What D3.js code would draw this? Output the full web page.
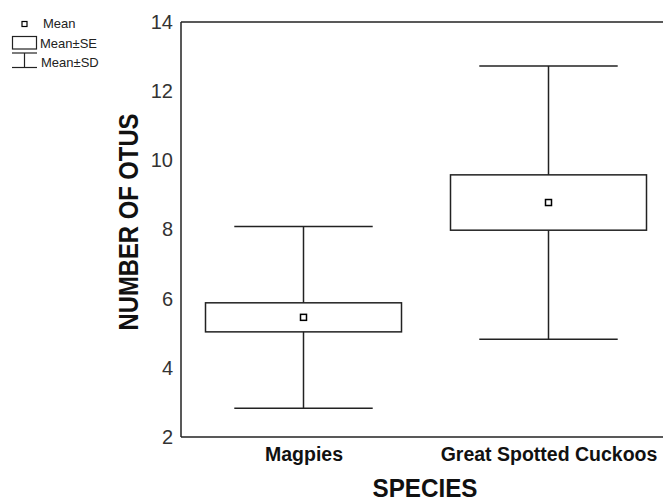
<!DOCTYPE html>
<html>
<head>
<meta charset="utf-8">
<script src="https://cdn.jsdelivr.net/npm/d3@7"></script>
<style>
  html, body { margin: 0; padding: 0; background: #fff; }
  svg { display: block; }
  text { font-family: Arial, "Liberation Sans", sans-serif; }
</style>
</head>
<body>
<svg id="chart" width="663" height="501"></svg>
<script>
// ---- data ----
const categories = ["Magpies", "Great Spotted Cuckoos"];
const means = [5.46, 8.78];
const seValues = [0.42, 0.80];
const sdValues = [2.63, 3.95];
const yTicks = [2, 4, 6, 8, 10, 12, 14];
const legendLabels = ["Mean", "Mean\u00b1SE", "Mean\u00b1SD"];
const xTitle = "SPECIES";
const yTitle = "NUMBER OF OTUS";

(function () {
const svg = d3.select("#chart");
const W = 663;
const plotLeft = 181, plotTop = 22, plotBottom = 437;

const y = d3.scaleLinear().domain([2, 14]).range([plotBottom, plotTop]);
const x = d3.scalePoint().domain(categories).range([plotLeft, 671]).padding(0.5);
const step = x.step();
const boxW = step * 0.8;
const capW = step * 0.565;
const ink = "#222";

// axes frame
const g = svg.append("g");
g.append("line").attr("x1", plotLeft).attr("x2", plotLeft).attr("y1", y(14)).attr("y2", y(2))
  .attr("stroke", ink).attr("stroke-width", 1.5);
g.append("line").attr("x1", plotLeft).attr("x2", W).attr("y1", y(14)).attr("y2", y(14))
  .attr("stroke", ink).attr("stroke-width", 1.5);
g.append("line").attr("x1", plotLeft).attr("x2", W).attr("y1", y(2)).attr("y2", y(2))
  .attr("stroke", ink).attr("stroke-width", 1.5);

// y tick labels
const yAxis = d3.axisLeft(y).tickValues(yTicks).tickSize(0).tickPadding(8).tickFormat(d3.format("d"));
const ya = svg.append("g").attr("transform", `translate(${plotLeft},0)`).call(yAxis);
ya.select(".domain").remove();
ya.selectAll("text").attr("font-size", 20).attr("fill", "#333")
  .attr("font-family", "Arial, 'Liberation Sans', sans-serif");

// x category labels
const xAxis = d3.axisBottom(x).tickSize(0).tickPadding(10);
const xa = svg.append("g").attr("transform", `translate(0,${plotBottom})`).call(xAxis);
xa.select(".domain").remove();
xa.selectAll("text").attr("font-size", 19.5).attr("font-weight", "bold").attr("fill", "#111")
  .attr("font-family", "Arial, 'Liberation Sans', sans-serif");

// plot elements
const data = categories.map((c, i) => ({ c, m: means[i], se: seValues[i], sd: sdValues[i] }));
const grp = svg.append("g").selectAll("g").data(data).join("g");

grp.append("line").attr("x1", d => x(d.c)).attr("x2", d => x(d.c))
  .attr("y1", d => y(d.m + d.sd)).attr("y2", d => y(d.m - d.sd))
  .attr("stroke", ink).attr("stroke-width", 1.5);
[1, -1].forEach(s => {
  grp.append("line")
    .attr("x1", d => x(d.c) - capW / 2).attr("x2", d => x(d.c) + capW / 2)
    .attr("y1", d => y(d.m + s * d.sd)).attr("y2", d => y(d.m + s * d.sd))
    .attr("stroke", ink).attr("stroke-width", 1.5);
});
grp.append("rect")
  .attr("x", d => x(d.c) - boxW / 2).attr("width", boxW)
  .attr("y", d => y(d.m + d.se)).attr("height", d => y(d.m - d.se) - y(d.m + d.se))
  .attr("fill", "#fff").attr("stroke", ink).attr("stroke-width", 1.5);
grp.append("rect")
  .attr("x", d => x(d.c) - 3).attr("y", d => y(d.m) - 3)
  .attr("width", 6).attr("height", 6)
  .attr("fill", "#fff").attr("stroke", "#000").attr("stroke-width", 1.5);

// axis titles
svg.append("text").attr("x", 425).attr("y", 497).attr("text-anchor", "middle")
  .attr("font-size", 25).attr("font-weight", "bold").attr("fill", "#111")
  .attr("textLength", 105).attr("lengthAdjust", "spacingAndGlyphs").text(xTitle);
svg.append("text").attr("transform", "translate(138,222) rotate(-90)")
  .attr("text-anchor", "middle").attr("font-size", 27).attr("font-weight", "bold").attr("fill", "#111")
  .attr("textLength", 217).attr("lengthAdjust", "spacingAndGlyphs").text(yTitle);

// legend
const lg = svg.append("g");
lg.append("rect").attr("x", 22).attr("y", 21.5).attr("width", 5).attr("height", 5)
  .attr("fill", "#fff").attr("stroke", "#000").attr("stroke-width", 1.2);
lg.append("rect").attr("x", 12.5).attr("y", 36.5).attr("width", 24).attr("height", 12.5)
  .attr("fill", "#fff").attr("stroke", ink).attr("stroke-width", 1.2);
lg.append("line").attr("x1", 12).attr("x2", 37).attr("y1", 53).attr("y2", 53).attr("stroke", ink).attr("stroke-width", 1.2);
lg.append("line").attr("x1", 24.5).attr("x2", 24.5).attr("y1", 53).attr("y2", 67.5).attr("stroke", ink).attr("stroke-width", 1.2);
lg.append("line").attr("x1", 12).attr("x2", 37).attr("y1", 67.5).attr("y2", 67.5).attr("stroke", ink).attr("stroke-width", 1.2);
const legY = [27.5, 47.5, 67];
const legX = [43, 40, 41];
lg.selectAll("text.leg").data(legendLabels).join("text").attr("class", "leg")
  .attr("x", (d, i) => legX[i]).attr("y", (d, i) => legY[i])
  .attr("font-size", 13).attr("fill", "#222").text(d => d);
})();
</script>
</body>
</html>
